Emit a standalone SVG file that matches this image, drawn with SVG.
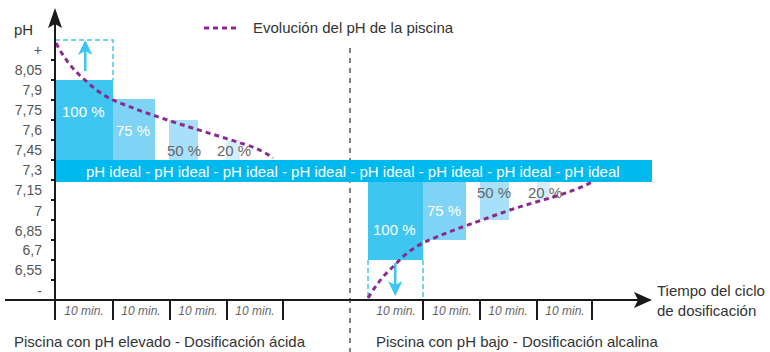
<svg xmlns="http://www.w3.org/2000/svg" width="770" height="352" viewBox="0 0 770 352">
<defs>
<style>
text{font-family:"Liberation Sans",Arial,sans-serif;}
.ax{stroke:#1a1a1a;stroke-width:2;fill:none}
.tick{stroke:#1a1a1a;stroke-width:2}
.yl{font-size:14px;fill:#555;text-anchor:end}
.min{font-size:12px;fill:#666;font-style:italic;text-anchor:middle}
.lbl{font-size:15px;fill:#333}
.pw{font-size:15px;fill:#fff}
.pg{font-size:15px;fill:#666}
.curve{stroke:#8b2a8e;stroke-width:3;stroke-dasharray:5 4;fill:none}
.dbox{stroke:#3ec6f0;stroke-width:1.5;stroke-dasharray:5 3;fill:none}
.arr{fill:#3ec6f0}
.c100{fill:#3ec6f0}.c75{fill:#7fd3f5}.c50{fill:#a9e0f9}.c20{fill:#d4eefb}
</style>
</defs>
<rect width="770" height="352" fill="#fff"/>

<g id="left-bars">
<rect class="c100" x="55" y="80" width="58" height="80"/>
<rect class="c75" x="113" y="99" width="42" height="61"/>
<rect class="c50" x="169" y="120" width="29" height="40"/>
<rect class="c20" x="226" y="140" width="14" height="20"/>
<text class="pw" x="62" y="117">100 %</text>
<text class="pw" x="116" y="136">75 %</text>
<text class="pg" x="167" y="156">50 %</text>
<text class="pg" x="217" y="156">20 %</text>
<path class="dbox" d="M55,40 H113 V80"/>
<rect class="arr" x="84" y="50" width="2.5" height="21"/>
<path class="arr" d="M85.2,40 L92.5,55 L85.2,51 L78,55 Z"/>
</g>

<g id="connectors">
<line x1="350" y1="48" x2="350" y2="352" stroke="#555" stroke-width="1.5" stroke-dasharray="5 5"/>
</g>

<g id="right-bars">
<rect class="c100" x="368" y="182" width="55" height="78"/>
<rect class="c75" x="423" y="182" width="43" height="58"/>
<rect class="c50" x="480" y="182" width="29" height="38"/>
<rect class="c20" x="537" y="182" width="13" height="18"/>
<text class="pw" x="373" y="235">100 %</text>
<text class="pw" x="427" y="216">75 %</text>
<text class="pg" x="477" y="198">50 %</text>
<text class="pg" x="528" y="198">20 %</text>
<path class="dbox" d="M368,260 V300 M423,260 V300"/>
<rect class="arr" x="394" y="263" width="2.5" height="22"/>
<path class="arr" d="M395.2,296 L402.5,281 L395.2,285 L388,281 Z"/>
</g>

<g id="ideal-band">
<rect x="55" y="160" width="597" height="22" fill="#00b9ef"/>
<text x="86" y="177" font-size="15" fill="#fff">pH ideal - pH ideal - pH ideal - pH ideal - pH ideal - pH ideal - pH ideal - pH ideal</text>
</g>

<g id="curves">
<path class="curve" d="M56,43 Q68,66 85,80 Q98,93 113,100 C150,116 200,130 247,145 Q262,150 273,158"/>
<path class="curve" d="M368,298 Q380,278 395,265 Q408,250 425,242 C440,235 470,224 510,210 C540,200 570,194 592,182"/>
</g>

<g id="axes">
<line class="ax" x1="55" y1="22" x2="55" y2="320"/>
<path d="M55,8 L62,28 L55,24 L48,28 Z" fill="#1a1a1a"/>
<line class="ax" x1="5" y1="300" x2="640" y2="300"/>
<path d="M652,300 L634,292 L638,300 L634,308 Z" fill="#1a1a1a"/>
<g class="tick">
<line x1="51" y1="60" x2="55" y2="60"/><line x1="51" y1="80" x2="55" y2="80"/>
<line x1="51" y1="100" x2="55" y2="100"/><line x1="51" y1="120" x2="55" y2="120"/>
<line x1="51" y1="140" x2="55" y2="140"/><line x1="51" y1="160" x2="55" y2="160"/>
<line x1="51" y1="180" x2="55" y2="180"/><line x1="51" y1="200" x2="55" y2="200"/>
<line x1="51" y1="220" x2="55" y2="220"/><line x1="51" y1="240" x2="55" y2="240"/>
<line x1="51" y1="260" x2="55" y2="260"/><line x1="51" y1="280" x2="55" y2="280"/>
<line x1="113" y1="300" x2="113" y2="320"/><line x1="170" y1="300" x2="170" y2="320"/>
<line x1="227" y1="300" x2="227" y2="320"/><line x1="283" y1="300" x2="283" y2="320"/>
<line x1="423" y1="300" x2="423" y2="320"/><line x1="480" y1="300" x2="480" y2="320"/>
<line x1="537" y1="300" x2="537" y2="320"/><line x1="592" y1="300" x2="592" y2="320"/>
</g>
<text x="14" y="35" font-size="15" fill="#333">pH</text>
<text class="yl" x="42" y="55">+</text>
<text class="yl" x="42" y="75">8,05</text>
<text class="yl" x="42" y="95">7,9</text>
<text class="yl" x="42" y="115">7,75</text>
<text class="yl" x="42" y="135">7,6</text>
<text class="yl" x="42" y="155">7,45</text>
<text class="yl" x="42" y="175">7,3</text>
<text class="yl" x="42" y="195">7,15</text>
<text class="yl" x="42" y="216">7</text>
<text class="yl" x="42" y="236">6,85</text>
<text class="yl" x="42" y="255">6,7</text>
<text class="yl" x="42" y="275">6,55</text>
<text class="yl" x="42" y="296">-</text>
<text class="min" x="84" y="315">10 min.</text>
<text class="min" x="141" y="315">10 min.</text>
<text class="min" x="198" y="315">10 min.</text>
<text class="min" x="255" y="315">10 min.</text>
<text class="min" x="396" y="315">10 min.</text>
<text class="min" x="452" y="315">10 min.</text>
<text class="min" x="508" y="315">10 min.</text>
<text class="min" x="565" y="315">10 min.</text>
</g>

<g id="legend">
<line class="curve" x1="204" y1="28" x2="240" y2="28"/>
<text class="lbl" x="253" y="33">Evolución del pH de la piscina</text>
</g>

<g id="labels">
<text class="lbl" x="657" y="296">Tiempo del ciclo</text>
<text class="lbl" x="657" y="316">de dosificación</text>
<text class="lbl" x="14" y="347">Piscina con pH elevado - Dosificación ácida</text>
<text class="lbl" x="376" y="347">Piscina  con pH bajo - Dosificación alcalina</text>
</g>
</svg>
